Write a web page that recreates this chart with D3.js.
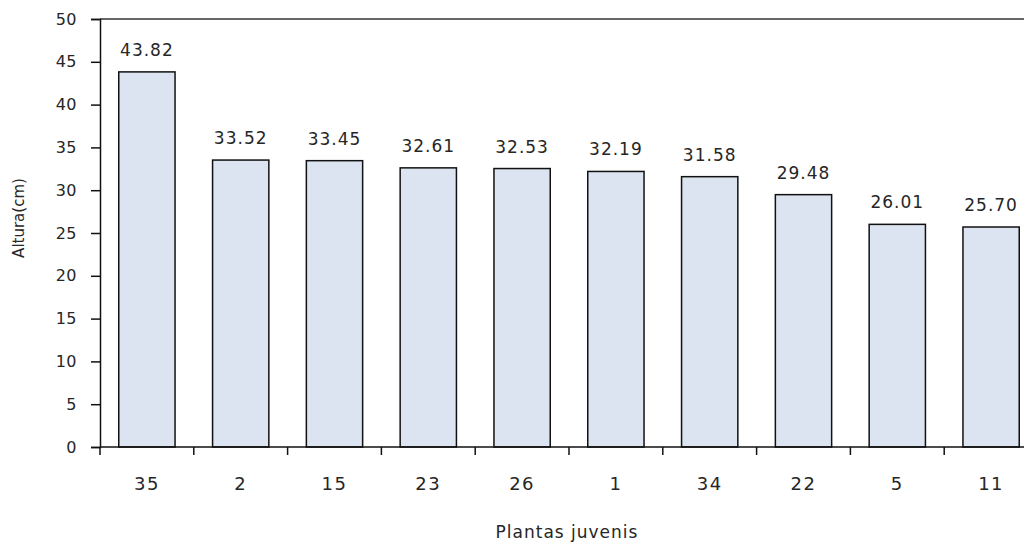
<!DOCTYPE html>
<html>
<head>
<meta charset="utf-8">
<script src="https://cdn.jsdelivr.net/npm/d3@7"></script>
<style>
    body { margin: 0; background: #fff; }
    text { font-family: "DejaVu Sans", Verdana, sans-serif; fill: #262626; }
</style>
</head>
<body>
<div id="plot"></div>
<script>
let plantas = ['35', '2', '15', '23', '26', '1', '34', '22', '5', '11'];
let alturas = [43.82, 33.52, 33.45, 32.61, 32.53, 32.19, 31.58, 29.48, 26.01, 25.70];
let yTicks = [0, 5, 10, 15, 20, 25, 30, 35, 40, 45, 50];

let svgWidth = 1024;
let svgHeight = 542;

let margin = { top: 19, left: 100 };
let chartWidth = 938;
let chartHeight = 428;

let $svg = d3.select('#plot')
    .append('svg')
    .attr('width', svgWidth)
    .attr('height', svgHeight);

let $chartGroup = $svg.append('g')
    .attr('transform', `translate(${margin.left}, ${margin.top})`);

// Scales
let xBandScale = d3.scaleBand()
    .domain(plantas)
    .range([0, chartWidth])
    .paddingInner(0.4)
    .paddingOuter(0.2);

let yLinearScale = d3.scaleLinear()
    .domain([0, 50])
    .range([chartHeight, 0]);

// Top border of plot area
$chartGroup.append('line')
    .attr('x1', 0)
    .attr('x2', chartWidth)
    .attr('y1', yLinearScale(50))
    .attr('y2', yLinearScale(50))
    .attr('stroke', '#333')
    .attr('stroke-width', 1.5);

// Bars
$chartGroup.selectAll('rect.bar')
    .data(alturas)
    .enter()
    .append('rect')
    .attr('class', 'bar')
    .attr('x', (d, i) => xBandScale(plantas[i]))
    .attr('y', d => yLinearScale(d))
    .attr('width', xBandScale.bandwidth())
    .attr('height', d => chartHeight - yLinearScale(d))
    .attr('fill', '#dbe4f0')
    .attr('stroke', '#111')
    .attr('stroke-width', 1.5);

// Value labels
$chartGroup.selectAll('text.value')
    .data(alturas)
    .enter()
    .append('text')
    .attr('class', 'value')
    .attr('x', (d, i) => xBandScale(plantas[i]) + xBandScale.bandwidth() / 2)
    .attr('y', d => yLinearScale(d) - 16)
    .attr('text-anchor', 'middle')
    .style('font-size', '17px')
    .style('letter-spacing', '1px')
    .text(d => d.toFixed(2));

// Y axis
let leftAxis = d3.axisLeft(yLinearScale)
    .tickValues(yTicks)
    .tickSize(9)
    .tickPadding(14);

let $yAxis = $chartGroup.append('g')
    .attr('id', 'y-axis')
    .call(leftAxis);
$yAxis.select('.domain').attr('stroke', '#111').attr('stroke-width', 1.5);
$yAxis.selectAll('.tick line').attr('stroke', '#111').attr('stroke-width', 1.5);
$yAxis.selectAll('.tick text')
    .style('font-size', '16px')
    .style('letter-spacing', '0.5px')
    .style('font-family', '"DejaVu Sans", Verdana, sans-serif')
    .attr('fill', '#262626');

// X axis: ticks on category boundaries
let boundaries = d3.range(plantas.length + 1).map(i => i * xBandScale.step());
let $xAxis = $chartGroup.append('g')
    .attr('id', 'x-axis')
    .attr('transform', `translate(0, ${chartHeight})`);

$xAxis.append('line')
    .attr('x1', 0)
    .attr('x2', chartWidth)
    .attr('stroke', '#111')
    .attr('stroke-width', 1.5);

$xAxis.selectAll('line.tick')
    .data(boundaries)
    .enter()
    .append('line')
    .attr('class', 'tick')
    .attr('x1', d => d)
    .attr('x2', d => d)
    .attr('y1', 0)
    .attr('y2', 8)
    .attr('stroke', '#111')
    .attr('stroke-width', 1.5);

$xAxis.selectAll('text.cat')
    .data(plantas)
    .enter()
    .append('text')
    .attr('class', 'cat')
    .attr('x', d => xBandScale(d) + xBandScale.bandwidth() / 2)
    .attr('y', 43)
    .attr('text-anchor', 'middle')
    .style('font-size', '18px')
    .style('letter-spacing', '1.5px')
    .text(d => d);

// Axis titles
$svg.append('text')
    .attr('transform', `translate(24, 218) rotate(-90)`)
    .attr('text-anchor', 'middle')
    .style('font-size', '15px')
    .text('Altura(cm)');

$svg.append('text')
    .attr('x', 567)
    .attr('y', 538)
    .attr('text-anchor', 'middle')
    .style('font-size', '17px')
    .style('letter-spacing', '1px')
    .text('Plantas juvenis');
</script>
</body>
</html>
